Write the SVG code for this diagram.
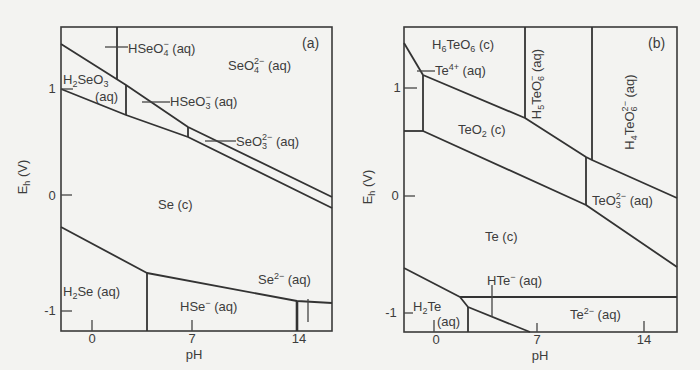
<svg xmlns="http://www.w3.org/2000/svg" width="700" height="370" viewBox="0 0 700 370">
<style>
.bg{fill:#f3f3f1}
.frame{fill:none;stroke:#3a3a3a;stroke-width:1.6}
.ln{fill:none;stroke:#333;stroke-width:1.8;stroke-linejoin:round}
.tk{fill:none;stroke:#444;stroke-width:1.3}
text{font-family:"Liberation Sans","DejaVu Sans",Arial,sans-serif;font-size:13px;fill:#3c3c3c}
.s{font-size:9px}
</style>
<rect class="bg" x="0" y="0" width="700" height="370"/>

<g id="panel-a">
  <rect class="frame" x="61" y="27" width="271" height="304"/>
  <g id="a-boundaries">
    <polyline class="ln" points="117,27 117,79"/>
    <polyline class="ln" points="61,44 126,85 188,127 332,197"/>
    <polyline class="ln" points="61,89 126,115 188,137 332,208"/>
    <polyline class="ln" points="126,85 126,115"/>
    <polyline class="ln" points="188,127 188,137"/>
    <polyline class="ln" points="61,227 147,273 297,301 332,303"/>
    <polyline class="ln" points="147,273 147,331"/>
    <polyline class="ln" style="stroke-width:2.6" points="297,301 297,331"/>
  </g>
  <g id="a-ticks">
    <line class="tk" x1="61" y1="89" x2="73" y2="89"/>
    <line class="tk" x1="61" y1="195" x2="72" y2="195"/>
    <line class="tk" x1="61" y1="311" x2="72" y2="311"/>
    <line class="tk" x1="92" y1="320" x2="92" y2="331"/>
    <line class="tk" x1="192" y1="320" x2="192" y2="331"/>
    <line class="tk" x1="105" y1="47" x2="128" y2="47"/>
    <line class="tk" x1="142" y1="102" x2="170" y2="102"/>
    <line class="tk" x1="205" y1="141" x2="236" y2="141"/>
    <line class="tk" x1="308" y1="299" x2="308" y2="322"/>
  </g>
  <g id="a-axis-labels">
    <text x="52" y="93" text-anchor="middle">1</text>
    <text x="52" y="200" text-anchor="middle">0</text>
    <text x="50" y="315" text-anchor="middle">-1</text>
    <text x="92" y="343" text-anchor="middle">0</text>
    <text x="192" y="343" text-anchor="middle">7</text>
    <text x="299" y="343" text-anchor="middle">14</text>
    <text x="194" y="359" text-anchor="middle">pH</text>
    <text transform="translate(27,177) rotate(-90)" text-anchor="middle">E<tspan class="s" dy="3">h</tspan><tspan dy="-3"> (V)</tspan></text>
  </g>
  <g id="a-region-labels">
    <text x="302" y="48" style="font-size:14px">(a)</text>
    <text x="128" y="53">HSeO<tspan class="s" dy="3">4</tspan><tspan class="s" dx="-5" dy="-9">−</tspan><tspan dy="6"> (aq)</tspan></text>
    <text x="228" y="70">SeO<tspan class="s" dy="3">4</tspan><tspan class="s" dx="-5" dy="-9">2−</tspan><tspan dy="6"> (aq)</tspan></text>
    <text x="63" y="84">H<tspan class="s" dy="3">2</tspan><tspan dy="-3">SeO</tspan><tspan class="s" dy="3">3</tspan></text>
    <text x="95" y="101">(aq)</text>
    <text x="170" y="106">HSeO<tspan class="s" dy="3">3</tspan><tspan class="s" dx="-5" dy="-9">−</tspan><tspan dy="6"> (aq)</tspan></text>
    <text x="236" y="146">SeO<tspan class="s" dy="3">3</tspan><tspan class="s" dx="-5" dy="-9">2−</tspan><tspan dy="6"> (aq)</tspan></text>
    <text x="158" y="209">Se (c)</text>
    <text x="63" y="296">H<tspan class="s" dy="3">2</tspan><tspan dy="-3">Se (aq)</tspan></text>
    <text x="180" y="311">HSe<tspan class="s" dy="-5">−</tspan><tspan dy="5"> (aq)</tspan></text>
    <text x="258" y="284">Se<tspan class="s" dy="-5">2−</tspan><tspan dy="5"> (aq)</tspan></text>
  </g>
</g>

<g id="panel-b">
  <rect class="frame" x="404" y="27" width="273" height="305"/>
  <g id="b-boundaries">
    <polyline class="ln" points="525,27 525,118"/>
    <polyline class="ln" points="592,27 592,160"/>
    <polyline class="ln" points="404,43 423,75"/>
    <polyline class="ln" points="423,75 423,131"/>
    <polyline class="ln" points="404,131 423,131"/>
    <polyline class="ln" points="423,75 525,118 586,157 592,160 677,198"/>
    <polyline class="ln" points="586,157 586,205"/>
    <polyline class="ln" points="423,131 586,205 677,267"/>
    <polyline class="ln" points="404,268 460,297 468,307 530,332"/>
    <polyline class="ln" points="460,297 677,297"/>
    <polyline class="ln" points="468,307 468,332"/>
  </g>
  <g id="b-ticks">
    <line class="tk" x1="404" y1="88" x2="417" y2="88"/>
    <line class="tk" x1="404" y1="196" x2="415" y2="196"/>
    <line class="tk" x1="404" y1="313" x2="413" y2="313"/>
    <line class="tk" x1="434" y1="320" x2="434" y2="332"/>
    <line class="tk" x1="537" y1="323" x2="537" y2="332"/>
    <line class="tk" x1="644" y1="321" x2="644" y2="332"/>
    <line class="tk" x1="417" y1="71" x2="435" y2="71"/>
    <line class="tk" x1="492" y1="285" x2="492" y2="317"/>
  </g>
  <g id="b-axis-labels">
    <text x="397" y="92" text-anchor="middle">1</text>
    <text x="395" y="200" text-anchor="middle">0</text>
    <text x="391" y="317" text-anchor="middle">-1</text>
    <text x="436" y="344" text-anchor="middle">0</text>
    <text x="537" y="344" text-anchor="middle">7</text>
    <text x="644" y="344" text-anchor="middle">14</text>
    <text x="540" y="360" text-anchor="middle">pH</text>
    <text transform="translate(372,187) rotate(-90)" text-anchor="middle">E<tspan class="s" dy="3">h</tspan><tspan dy="-3"> (V)</tspan></text>
  </g>
  <g id="b-region-labels">
    <text x="648" y="48" style="font-size:14px">(b)</text>
    <text x="432" y="49">H<tspan class="s" dy="3">6</tspan><tspan dy="-3">TeO</tspan><tspan class="s" dy="3">6</tspan><tspan dy="-3"> (c)</tspan></text>
    <text x="435" y="75">Te<tspan class="s" dy="-5">4+</tspan><tspan dy="5"> (aq)</tspan></text>
    <text transform="translate(541,84) rotate(-90)" text-anchor="middle">H<tspan class="s" dy="3">5</tspan><tspan dy="-3">TeO</tspan><tspan class="s" dy="3">6</tspan><tspan class="s" dx="-5" dy="-9">−</tspan><tspan dy="6"> (aq)</tspan></text>
    <text transform="translate(634,112) rotate(-90)" text-anchor="middle">H<tspan class="s" dy="3">4</tspan><tspan dy="-3">TeO</tspan><tspan class="s" dy="3">6</tspan><tspan class="s" dx="-5" dy="-9">2−</tspan><tspan dy="6"> (aq)</tspan></text>
    <text x="458" y="134">TeO<tspan class="s" dy="3">2</tspan><tspan dy="-3"> (c)</tspan></text>
    <text x="592" y="205">TeO<tspan class="s" dy="3">3</tspan><tspan class="s" dx="-5" dy="-9">2−</tspan><tspan dy="6"> (aq)</tspan></text>
    <text x="485" y="241">Te (c)</text>
    <text x="487" y="285">HTe<tspan class="s" dy="-5">−</tspan><tspan dy="5"> (aq)</tspan></text>
    <text x="413" y="311">H<tspan class="s" dy="3">2</tspan><tspan dy="-3">Te</tspan></text>
    <text x="437" y="326">(aq)</text>
    <text x="570" y="319">Te<tspan class="s" dy="-5">2−</tspan><tspan dy="5"> (aq)</tspan></text>
  </g>
</g>
</svg>
